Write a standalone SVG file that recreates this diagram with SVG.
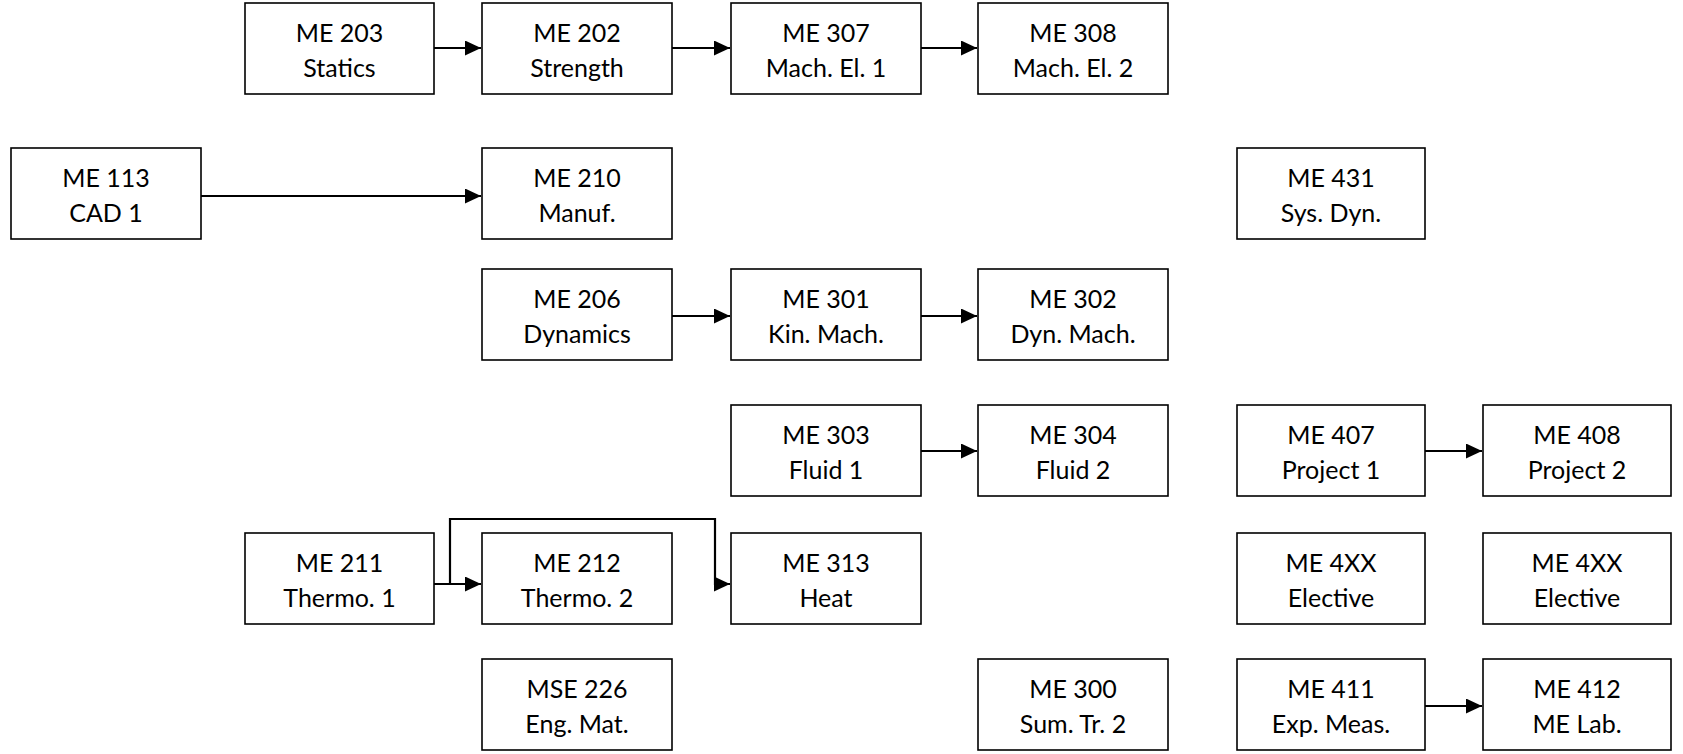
<svg xmlns="http://www.w3.org/2000/svg" width="1683" height="754" viewBox="0 0 1683 754">
<style>
.box{fill:#fff;stroke:#000;stroke-width:1.6}
.t{font-family:Lato,"Liberation Sans",sans-serif;font-size:25px;fill:#000;text-anchor:middle}
.c{fill:none;stroke:#000;stroke-width:2.2}
</style>
<defs>
<marker id="ah" markerUnits="userSpaceOnUse" markerWidth="16" markerHeight="16" refX="16" refY="7.5" orient="auto">
<path d="M0,0 L16,7.5 L0,15 z" fill="#000"/>
</marker>
</defs>
<rect width="1683" height="754" fill="#fff"/>
<g id="connectors">
<path class="c" d="M434,48 H481" marker-end="url(#ah)"/>
<path class="c" d="M672,48 H730" marker-end="url(#ah)"/>
<path class="c" d="M921,48 H977" marker-end="url(#ah)"/>
<path class="c" d="M201,196 H481" marker-end="url(#ah)"/>
<path class="c" d="M672,316 H730" marker-end="url(#ah)"/>
<path class="c" d="M921,316 H977" marker-end="url(#ah)"/>
<path class="c" d="M921,451 H977" marker-end="url(#ah)"/>
<path class="c" d="M1425,451 H1482" marker-end="url(#ah)"/>
<path class="c" d="M434,584 H481" marker-end="url(#ah)"/>
<path class="c" d="M450,584 V519 H715 V584 H730" marker-end="url(#ah)"/>
<path class="c" d="M1425,706 H1482" marker-end="url(#ah)"/>
</g>
<g id="me203"><rect class="box" x="245" y="3" width="189" height="91"/><text class="t" x="339.5" y="42">ME 203</text><text class="t" x="339.5" y="77">Statics</text></g>
<g id="me202"><rect class="box" x="482" y="3" width="190" height="91"/><text class="t" x="577" y="42">ME 202</text><text class="t" x="577" y="77">Strength</text></g>
<g id="me307"><rect class="box" x="731" y="3" width="190" height="91"/><text class="t" x="826" y="42">ME 307</text><text class="t" x="826" y="77">Mach. El. 1</text></g>
<g id="me308"><rect class="box" x="978" y="3" width="190" height="91"/><text class="t" x="1073" y="42">ME 308</text><text class="t" x="1073" y="77">Mach. El. 2</text></g>
<g id="me113"><rect class="box" x="11" y="148" width="190" height="91"/><text class="t" x="106" y="187">ME 113</text><text class="t" x="106" y="222">CAD 1</text></g>
<g id="me210"><rect class="box" x="482" y="148" width="190" height="91"/><text class="t" x="577" y="187">ME 210</text><text class="t" x="577" y="222">Manuf.</text></g>
<g id="me431"><rect class="box" x="1237" y="148" width="188" height="91"/><text class="t" x="1331" y="187">ME 431</text><text class="t" x="1331" y="222">Sys. Dyn.</text></g>
<g id="me206"><rect class="box" x="482" y="269" width="190" height="91"/><text class="t" x="577" y="308">ME 206</text><text class="t" x="577" y="343">Dynamics</text></g>
<g id="me301"><rect class="box" x="731" y="269" width="190" height="91"/><text class="t" x="826" y="308">ME 301</text><text class="t" x="826" y="343">Kin. Mach.</text></g>
<g id="me302"><rect class="box" x="978" y="269" width="190" height="91"/><text class="t" x="1073" y="308">ME 302</text><text class="t" x="1073" y="343">Dyn. Mach.</text></g>
<g id="me303"><rect class="box" x="731" y="405" width="190" height="91"/><text class="t" x="826" y="444">ME 303</text><text class="t" x="826" y="479">Fluid 1</text></g>
<g id="me304"><rect class="box" x="978" y="405" width="190" height="91"/><text class="t" x="1073" y="444">ME 304</text><text class="t" x="1073" y="479">Fluid 2</text></g>
<g id="me407"><rect class="box" x="1237" y="405" width="188" height="91"/><text class="t" x="1331" y="444">ME 407</text><text class="t" x="1331" y="479">Project 1</text></g>
<g id="me408"><rect class="box" x="1483" y="405" width="188" height="91"/><text class="t" x="1577" y="444">ME 408</text><text class="t" x="1577" y="479">Project 2</text></g>
<g id="me211"><rect class="box" x="245" y="533" width="189" height="91"/><text class="t" x="339.5" y="572">ME 211</text><text class="t" x="339.5" y="607">Thermo. 1</text></g>
<g id="me212"><rect class="box" x="482" y="533" width="190" height="91"/><text class="t" x="577" y="572">ME 212</text><text class="t" x="577" y="607">Thermo. 2</text></g>
<g id="me313"><rect class="box" x="731" y="533" width="190" height="91"/><text class="t" x="826" y="572">ME 313</text><text class="t" x="826" y="607">Heat</text></g>
<g id="me4xx-a"><rect class="box" x="1237" y="533" width="188" height="91"/><text class="t" x="1331" y="572">ME 4XX</text><text class="t" x="1331" y="607">Elective</text></g>
<g id="me4xx-b"><rect class="box" x="1483" y="533" width="188" height="91"/><text class="t" x="1577" y="572">ME 4XX</text><text class="t" x="1577" y="607">Elective</text></g>
<g id="mse226"><rect class="box" x="482" y="659" width="190" height="91"/><text class="t" x="577" y="698">MSE 226</text><text class="t" x="577" y="733">Eng. Mat.</text></g>
<g id="me300"><rect class="box" x="978" y="659" width="190" height="91"/><text class="t" x="1073" y="698">ME 300</text><text class="t" x="1073" y="733">Sum. Tr. 2</text></g>
<g id="me411"><rect class="box" x="1237" y="659" width="188" height="91"/><text class="t" x="1331" y="698">ME 411</text><text class="t" x="1331" y="733">Exp. Meas.</text></g>
<g id="me412"><rect class="box" x="1483" y="659" width="188" height="91"/><text class="t" x="1577" y="698">ME 412</text><text class="t" x="1577" y="733">ME Lab.</text></g>
</svg>
